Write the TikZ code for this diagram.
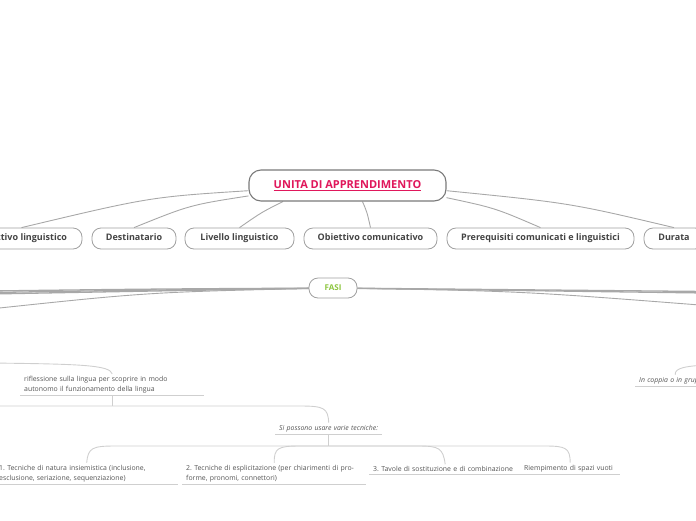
\documentclass[tikz,border=0pt]{standalone}
\usepackage{fontspec}
\setmainfont{Open Sans}
\frenchspacing
\usetikzlibrary{backgrounds}
\definecolor{rootred}{HTML}{E0175B}
\definecolor{fasigreen}{HTML}{8DC63F}
\definecolor{boxline}{HTML}{A0A0A0}
\definecolor{rootline}{HTML}{7A7A7A}
\definecolor{txt}{HTML}{444444}
\definecolor{leaftxt}{HTML}{555555}
\definecolor{conn}{HTML}{A8A8A8}
\definecolor{thin}{HTML}{CFCFCF}
\tikzset{
  rootbox/.style={draw=rootline, line width=1.1pt, rounded corners=12pt, fill=white,
    minimum width=197pt, minimum height=31pt, inner sep=0pt,
    font=\fontsize{11}{13}\selectfont\bfseries, text=rootred},
  childbox/.style={draw=boxline, line width=0.8pt, rounded corners=9pt, fill=white,
    minimum height=21pt, inner sep=0pt, text height=6.6pt, text depth=1.9pt,
    font=\fontsize{9}{10}\selectfont\bfseries, text=txt},
  fasibox/.style={draw=boxline, line width=0.8pt, rounded corners=9pt, fill=white,
    minimum width=48pt, minimum height=20pt, inner sep=0pt,
    font=\fontsize{8}{9}\selectfont\bfseries, text=fasigreen},
  leaf/.style={anchor=south west, align=left, inner xsep=4pt, inner ysep=2pt,
    font=\fontsize{6.9}{9.8}\selectfont, text=leaftxt},
  uline/.style={draw=thin, line width=0.9pt},
  rootconn/.style={draw=conn, line width=0.9pt},
  fasiconn/.style={draw=conn, line width=1.3pt},
  thinconn/.style={draw=thin, line width=0.9pt},
}
\begin{document}
\begin{tikzpicture}[x=1pt,y=-1pt]
\useasboundingbox (0,0) rectangle (696,520);
\clip (0,0) rectangle (696,520);

% root and children
\node[rootbox] (root) at (347.5,185.5) {\underline{UNITA DI APPRENDIMENTO}};
\node[childbox, minimum width=121pt] (ol) at (21.5,238.5) {Obiettivo linguistico};
\node[childbox, minimum width=84pt] (dest) at (134,238.5) {Destinatario};
\node[childbox, minimum width=109pt] (liv) at (239.5,238.5) {Livello linguistico};
\node[childbox, minimum width=133pt] (oc) at (370.5,238.5) {Obiettivo comunicativo};
\node[childbox, minimum width=187pt] (pre) at (540.5,238.5) {Prerequisiti comunicati e linguistici};
\node[childbox, minimum width=60pt] (dur) at (674,238.5) {Durata};

\node[fasibox] (fasi) at (333,288) {FASI};

% leaves
\node[leaf, text width=176pt] (rif) at (20,395) {riflessione sulla lingua per scoprire in modo\\autonomo il funzionamento della lingua};
\node[leaf, text width=99pt, font=\fontsize{6.9}{9.8}\selectfont\itshape] (si) at (275,434) {Si possono usare varie tecniche:};
\node[leaf, text width=175pt] (t1) at (-5,484) {1. Tecniche di natura insiemistica (inclusione,\\esclusione, seriazione, sequenziazione)};
\node[leaf, text width=176pt] (t2) at (182,484) {2. Tecniche di esplicitazione (per chiarimenti di pro-\\forme, pronomi, connettori)};
\node[leaf, text width=144pt] (t3) at (369,474) {3. Tavole di sostituzione e di combinazione};
\node[leaf, text width=92pt] (t4) at (520,474) {Riempimento di spazi vuoti};
\node[leaf, text width=72pt, font=\fontsize{6.9}{9.8}\selectfont\itshape] (cop) at (635,386) {In coppia o in gruppo};

\coordinate (lA) at (-10,363);
\coordinate (j1) at (rif.south |- 0,406);
\coordinate (lB) at (-10,406);
\coordinate (j2) at (si.south |- 0,446);
\coordinate (rA) at (706,365);
\coordinate (fl1) at (-10,291);
\coordinate (fl2) at (-10,292.5);
\coordinate (fl3) at (-10,294);
\coordinate (fl4) at (-10,309);
\coordinate (fr1) at (706,291.5);
\coordinate (fr2) at (706,293);
\coordinate (fr3) at (706,305.5);

\begin{scope}[on background layer]
% root connectors
\draw[rootconn] (root.183) .. controls (150,197) .. (ol.north);
\draw[rootconn] (root.186) .. controls (190,205) .. (dest.north);
\draw[rootconn] (root.194) .. controls (262,212) .. (liv.north);
\draw[rootconn] (root.313) .. controls (367,212) .. (oc.north);
\draw[rootconn] (root.353) .. controls (495,208) .. (pre.north);
\draw[rootconn] (root.357) .. controls (570,203) .. (dur.north);
% fasi connectors
\draw[fasiconn] (fasi.center) .. controls (150,289) .. (fl1);
\draw[fasiconn] (fasi.center) .. controls (150,290) .. (fl2);
\draw[fasiconn] (fasi.center) .. controls (150,291) .. (fl3);
\draw[rootconn] (fasi.center) .. controls (150,292) .. (fl4);
\draw[fasiconn] (fasi.center) .. controls (520,289) .. (fr1);
\draw[fasiconn] (fasi.center) .. controls (520,290) .. (fr2);
\draw[rootconn] (fasi.center) .. controls (520,291) .. (fr3);
\end{scope}

% underlines
\foreach \n in {rif,si,t1,t2,t3,t4,cop}{
  \draw[uline] (\n.south west) -- (\n.south east);
}

% thin connectors
\draw[thinconn] (lA) .. controls (80,364) and (110,365) .. (rif.north);
\draw[thinconn] (rif.south) -- (j1);
\draw[thinconn] (lB) -- (j1) -- (300,406) .. controls (324,406) and (328,408) .. (si.north);
\draw[thinconn] (si.south) -- (j2);
\draw[thinconn] (j2) -- (115,446) .. controls (92,446) and (88,448) .. (t1.north);
\draw[thinconn] (j2) -- (300,446) .. controls (278,446) and (274,448) .. (t2.north);
\draw[thinconn] (j2) -- (418,446) .. controls (439,446) and (443,448) .. (t3.north);
\draw[thinconn] (j2) -- (545,446) .. controls (566,446) and (570,448) .. (t4.north);
\draw[thinconn] (rA) .. controls (690,366) and (674,367) .. (cop.north);
\end{tikzpicture}
\end{document}
